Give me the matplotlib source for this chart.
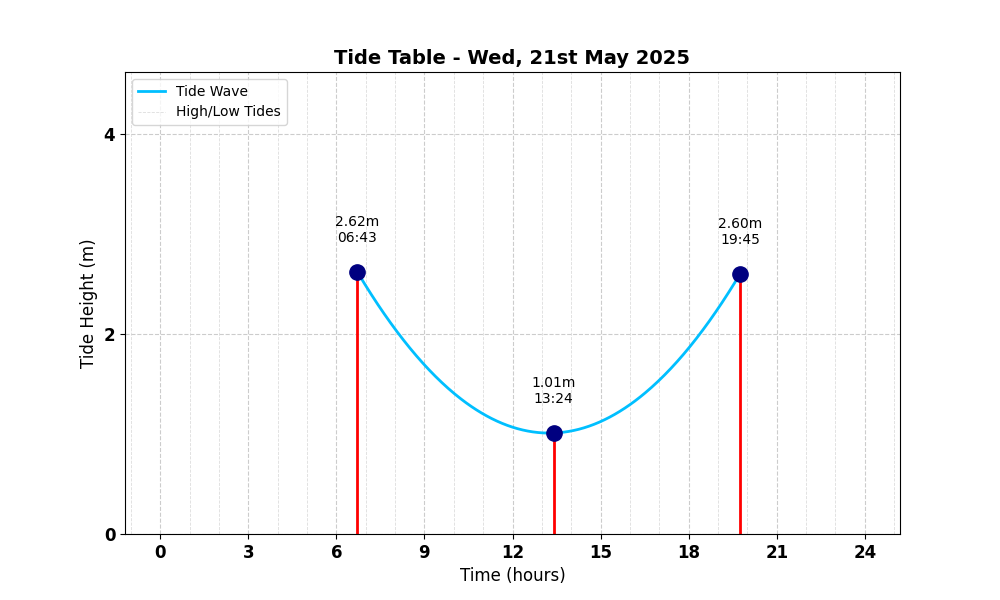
import numpy as np
import matplotlib.pyplot as plt
from matplotlib.lines import Line2D
from matplotlib.ticker import MultipleLocator

# tide extremes (hours since midnight, metres)
tide_times = ["06:43", "13:24", "19:45"]
tide_heights = [2.62, 1.01, 2.60]

tide_hours = [int(t[:2]) + int(t[3:]) / 60 for t in tide_times]

# smooth wave through the extremes
coef = np.polyfit(tide_hours, tide_heights, 2)
wave_x = np.linspace(tide_hours[0], tide_hours[-1], 300)
wave_y = np.polyval(coef, wave_x)

fig, ax = plt.subplots(figsize=(10, 6), dpi=100)

ax.plot(wave_x, wave_y, color='deepskyblue', linewidth=2, label='Tide Wave')
ax.vlines(tide_hours, 0, tide_heights, color='red', linewidth=2)
ax.plot(tide_hours, tide_heights, 'o', color='navy', markersize=11, zorder=5)

for h, v, t in zip(tide_hours, tide_heights, tide_times):
    ax.text(h, v + 0.27, f"{v:.2f}m\n{t}", ha='center', va='bottom', fontsize=10)

ax.set_xlim(-1.2, 25.2)
ax.set_ylim(0, max(tide_heights) + 2)
ax.set_xticks(range(0, 25, 3))
ax.set_yticks([0, 2, 4])
ax.xaxis.set_minor_locator(MultipleLocator(1))
ax.tick_params(axis='x', which='minor', length=0)
ax.grid(True, which='major', linestyle='--', color='#cccccc', linewidth=0.8)
ax.grid(True, which='minor', axis='x', linestyle='--', color='#dddddd', linewidth=0.6)
ax.set_axisbelow(True)

for lbl in ax.get_xticklabels() + ax.get_yticklabels():
    lbl.set_fontweight('bold')
    lbl.set_fontsize(12)

ax.set_title('Tide Table - Wed, 21st May 2025', fontsize=14, fontweight='bold')
ax.set_xlabel('Time (hours)', fontsize=12)
ax.set_ylabel('Tide Height (m)', fontsize=12)

handles = [Line2D([], [], color='deepskyblue', linewidth=2),
           Line2D([], [], color='#dddddd', linestyle='--', linewidth=0.6)]
ax.legend(handles, ['Tide Wave', 'High/Low Tides'], loc='upper left')

plt.savefig('out.png', dpi=100)
